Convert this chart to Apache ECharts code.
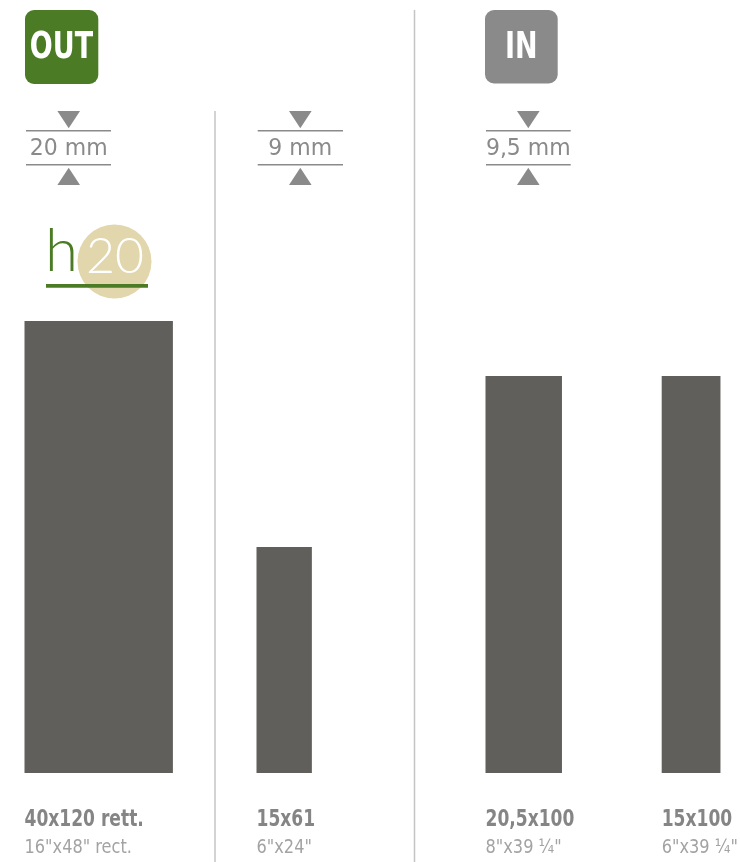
<!DOCTYPE html>
<html>
<head>
<meta charset="utf-8">
<script src="https://cdn.jsdelivr.net/npm/echarts@6/dist/echarts.min.js"></script>
<style>html,body{margin:0;padding:0;background:#fff}#c{width:740px;height:862px}</style>
</head>
<body>
<div id="c"></div>
<script>
// ---- data ----
const sizes = ['40x120 rett.', '15x61', '20,5x100', '15x100'];
const sizesInch = ['16"x48" rect.', '6"x24"', '8"x39 ¼"', '6"x39 ¼"'];
const lengths = [120, 60, 105.4, 105.4];      // tile length (cm, as drawn)
const widths = [39.4, 14.7, 20.3, 15.6];      // tile width (cm, as drawn)
const groups = ['OUT', 'IN'];
const thickness = ['20 mm', '9 mm', '9,5 mm'];

// ---- layout ----
const PX_PER_CM = 452 / 120;
const xMax = 740 / PX_PER_CM;
const barLeft = [24.5, 256.5, 485.5, 661.7].map(v => v / PX_PER_CM);

const chart = echarts.init(document.getElementById('c'), null, {renderer: 'canvas'});

const seriesData = sizes.map((s, i) => [barLeft[i], widths[i], lengths[i], i]);

function thicknessMark(cx, x1, x2, label) {
  const col = '#8a8a8a';
  return [
    {type: 'polygon', shape: {points: [[cx - 11.3, 111], [cx + 11.3, 111], [cx, 128.3]]}, style: {fill: col}},
    {type: 'line', shape: {x1: x1, y1: 130.7, x2: x2, y2: 130.7}, style: {stroke: col, lineWidth: 1.6}},
    {type: 'text', x: cx, y: 149, scaleY: 1.08, style: {text: label, fill: col, font: '22px "DejaVu Sans"', textAlign: 'center', textVerticalAlign: 'middle'}},
    {type: 'line', shape: {x1: x1, y1: 164.8, x2: x2, y2: 164.8}, style: {stroke: col, lineWidth: 1.6}},
    {type: 'polygon', shape: {points: [[cx - 11.3, 185], [cx + 11.3, 185], [cx, 167.7]]}, style: {fill: col}}
  ];
}

const graphics = [
  // separators
  {type: 'line', shape: {x1: 215, y1: 111, x2: 215, y2: 862}, style: {stroke: '#c4c4c4', lineWidth: 1.5}},
  {type: 'line', shape: {x1: 414.5, y1: 10, x2: 414.5, y2: 862}, style: {stroke: '#c4c4c4', lineWidth: 1.5}},
  // badges
  {type: 'rect', shape: {x: 25, y: 10, width: 73.3, height: 74, r: 9}, style: {fill: '#4b7b24'}},
  {type: 'text', x: 61.5, y: 48.5, scaleY: 1.22, style: {text: groups[0], fill: '#fff', font: 'bold 30px "DejaVu Sans Condensed"', textAlign: 'center', textVerticalAlign: 'middle'}},
  {type: 'rect', shape: {x: 485, y: 10, width: 72.7, height: 73.5, r: 9}, style: {fill: '#8a8a8a'}},
  {type: 'text', x: 521.3, y: 48.5, scaleY: 1.22, style: {text: groups[1], fill: '#fff', font: 'bold 30px "DejaVu Sans Condensed"', textAlign: 'center', textVerticalAlign: 'middle'}},
  // h20 logo
  {type: 'circle', shape: {cx: 114.5, cy: 261.5, r: 37}, style: {fill: '#e1d6ac'}},
  {type: 'text', x: 45, y: 282, style: {text: 'h', fill: '#4b7b24', font: '300 60px Lato', textAlign: 'left', textVerticalAlign: 'bottom'}},
  {type: 'text', x: 115, y: 282, style: {text: '20', fill: '#fff', font: '300 50px Lato', textAlign: 'center', textVerticalAlign: 'bottom'}},
  {type: 'rect', shape: {x: 46, y: 284, width: 102, height: 3.8}, style: {fill: '#4b7b24'}}
].concat(
  thicknessMark(68.7, 26, 111, thickness[0]),
  thicknessMark(300.3, 257.7, 343, thickness[1]),
  thicknessMark(528.3, 486, 570.7, thickness[2])
);

chart.setOption({
  animation: false,
  grid: {left: 0, right: 0, top: 321, bottom: 89, containLabel: false},
  xAxis: {type: 'value', min: 0, max: xMax, show: false},
  yAxis: {type: 'value', min: 0, max: 120, show: false},
  graphic: graphics,
  series: [{
    type: 'custom',
    data: seriesData,
    clip: false,
    renderItem: function (params, api) {
      const left = api.value(0), w = api.value(1), len = api.value(2), i = api.value(3);
      const tl = api.coord([left, len]);
      const br = api.coord([left + w, 0]);
      return {
        type: 'group',
        children: [
          {type: 'rect', shape: {x: tl[0], y: tl[1], width: br[0] - tl[0], height: br[1] - tl[1]}, style: {fill: '#615f5c'}},
          {type: 'text', x: tl[0], y: br[1] + 47, scaleY: 1.18, style: {text: sizes[i], fill: '#858585', font: 'bold 19px "DejaVu Sans Condensed"', textAlign: 'left', textVerticalAlign: 'middle'}},
          {type: 'text', x: tl[0], y: br[1] + 75, scaleY: 1.08, style: {text: sizesInch[i], fill: '#a3a3a3', font: '18px "DejaVu Sans Condensed"', textAlign: 'left', textVerticalAlign: 'middle'}}
        ]
      };
    }
  }]
});
</script>
</body>
</html>
